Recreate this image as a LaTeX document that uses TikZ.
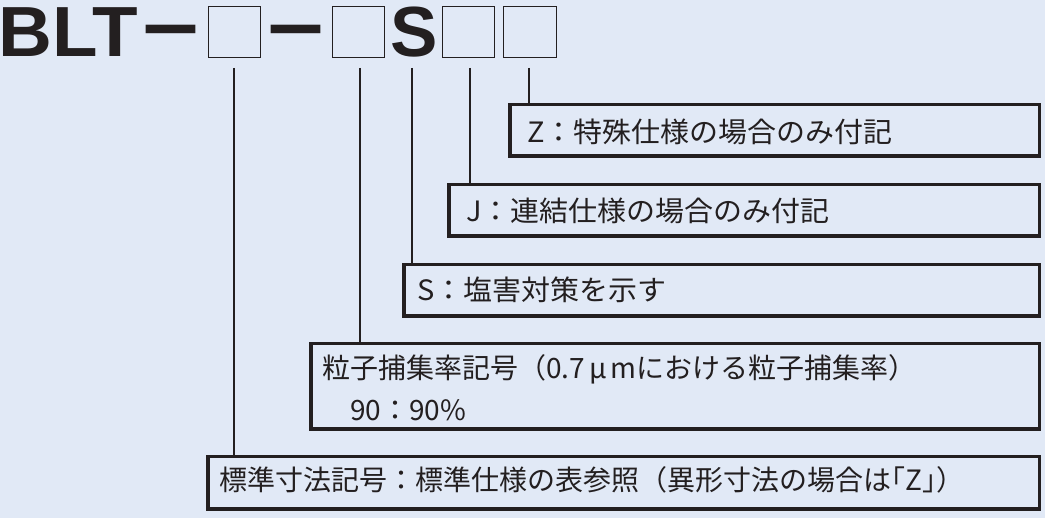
\documentclass[tikz,border=0pt]{standalone}
\usepackage{fontspec}
\newfontfamily\jpfont{Noto Sans CJK JP}
\newfontfamily\jpwide[FakeStretch=1.035]{Noto Sans CJK JP}
\newfontfamily\hdfont{Liberation Sans}
\newfontfamily\hdwide[FakeStretch=1.05]{Liberation Sans}
\definecolor{bgblue}{RGB}{225,233,246}
\definecolor{inkc}{RGB}{35,31,32}
\tikzset{
  hsq/.style={draw=inkc, line width=1.3pt, minimum width=51.5pt, minimum height=50.5pt, inner sep=0pt},
  rowbox/.style={draw=inkc, line width=3.5pt, inner sep=0pt},
  conn/.style={draw=inkc, line width=2.5pt},
  hdtxt/.style={inner sep=0pt, text=inkc, font=\hdfont\bfseries\fontsize{71}{80}\selectfont},
  hdwtxt/.style={inner sep=0pt, text=inkc, font=\hdwide\bfseries\fontsize{71}{80}\selectfont},
  dashtxt/.style={inner sep=0pt, text=inkc, font=\jpfont\bfseries\fontsize{71}{80}\selectfont},
  toplbl/.style={inner sep=0pt, anchor=base west, text=inkc, font=\jpwide\fontsize{28}{34}\selectfont},
  botlbl/.style={inner sep=0pt, anchor=base west, text=inkc, font=\jpfont\fontsize{28}{34}\selectfont}
}
\begin{document}
\begin{tikzpicture}[x=1pt,y=-1pt]
\useasboundingbox (0,0) rectangle (1045,518);
\fill[bgblue] (0,0) rectangle (1045,518);
% header
\node[hdwtxt, anchor=base west] (blt) at (-2,57) {BLT};
\node[dashtxt, anchor=base] (d1) at (171,57) {－};
\node[hsq] (h1) at (234.5,32) {};
\node[dashtxt, anchor=base] (d2) at (295.5,57) {－};
\node[hsq] (h2) at (358.5,32) {};
\node[hdtxt, anchor=base west] (hs) at (390,57) {S};
\node[hsq] (h3) at (468.5,32) {};
\node[hsq, minimum width=52.5pt] (h4) at (530,32) {};
% boxes
\node[rowbox, minimum width=529.5pt, minimum height=51.5pt] (zb) at (774.5,130.5) {};
\node[rowbox, minimum width=590.5pt, minimum height=51.5pt] (jb) at (744,210.5) {};
\node[rowbox, minimum width=635.5pt, minimum height=51.5pt] (sb) at (721.5,290.5) {};
\node[rowbox, minimum width=728.5pt, minimum height=85.5pt] (pb) at (675,386.5) {};
\node[rowbox, minimum width=831.5pt, minimum height=52.5pt] (stdb) at (623.5,483) {};
% labels
\node[toplbl] (zt) at (527,143) {Z：特殊仕様の場合のみ付記};
\node[toplbl] (jt) at (466,222) {J：連結仕様の場合のみ付記};
\node[toplbl] (st) at (417,300.5) {S：塩害対策を示す};
\node[botlbl] (pt1) at (322,378.5) {粒子捕集率記号（0.7\hspace{4pt}μ\hspace{4pt}mにおける粒子捕集率）};
\node[botlbl] (pt2) at (322,421) {　90：90\%};
\node[botlbl] (stdt) at (219,490.5) {標準寸法記号：標準仕様の表参照（異形寸法の場合は｢Z｣）};
% connectors
\coordinate (c1) at (234,68);
\coordinate (c2) at (360,68);
\coordinate (c3) at (412,68);
\coordinate (c4) at (470,68);
\coordinate (c5) at (529,68);
\draw[conn] (c1) -- (c1 |- stdb.north);
\draw[conn] (c2) -- (c2 |- pb.north);
\draw[conn] (c3) -- (c3 |- sb.north);
\draw[conn] (c4) -- (c4 |- jb.north);
\draw[conn] (c5) -- (c5 |- zb.north);
\end{tikzpicture}
\end{document}
